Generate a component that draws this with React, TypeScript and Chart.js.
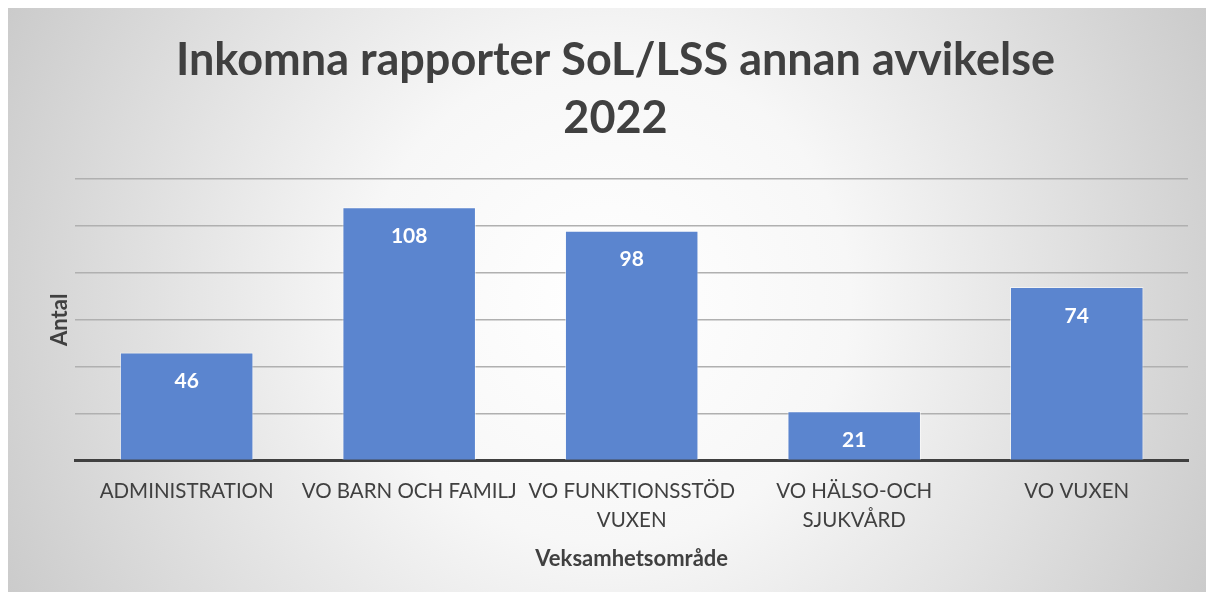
import React, { useEffect, useRef } from "react";
import { Chart, registerables } from "chart.js";

Chart.register(...registerables);

const categories: (string | string[])[] = [
  "ADMINISTRATION",
  "VO BARN OCH FAMILJ",
  ["VO FUNKTIONSSTÖD", "VUXEN"],
  ["VO HÄLSO-OCH", "SJUKVÅRD"],
  "VO VUXEN",
];
const values: number[] = [46, 108, 98, 21, 74];
const titleLines: string[] = ["Inkomna rapporter SoL/LSS annan avvikelse", "2022"];
const yTitle = "Antal";
const xTitle = "Veksamhetsområde";

const TEXT = "#404040";
const FONT = "Lato, 'Open Sans', sans-serif";

const bgPlugin = {
  id: "bgGrad",
  beforeDraw(chart: any) {
    const { ctx, width, height } = chart;
    ctx.save();
    const g = ctx.createRadialGradient(width / 2, height / 2, 0, width / 2, height / 2, width * 0.58);
    g.addColorStop(0, "#ffffff");
    g.addColorStop(0.35, "#f7f7f7");
    g.addColorStop(1, "#c8c8c8");
    ctx.fillStyle = g;
    ctx.fillRect(0, 0, width, height);
    ctx.restore();
  },
};

const labelPlugin = {
  id: "barLabels",
  afterDatasetsDraw(chart: any) {
    const { ctx } = chart;
    const meta = chart.getDatasetMeta(0);
    ctx.save();
    ctx.fillStyle = "#ffffff";
    ctx.font = `bold 21px ${FONT}`;
    ctx.textAlign = "center";
    ctx.textBaseline = "middle";
    meta.data.forEach((bar: any, i: number) => {
      ctx.fillText(String(values[i]), bar.x, bar.y + 29);
    });
    ctx.restore();
  },
};

export default function App() {
  const ref = useRef<HTMLCanvasElement>(null);
  useEffect(() => {
    if (!ref.current) return;
    const chart = new Chart(ref.current, {
      type: "bar",
      data: {
        labels: categories,
        datasets: [
          {
            data: values,
            backgroundColor: "#5b85cf",
            borderColor: "rgba(255,255,255,0.55)",
            borderWidth: 1,
            categoryPercentage: 1,
            barPercentage: 0.6,
          },
        ],
      },
      options: {
        animation: false,
        responsive: false,
        layout: { padding: { left: 35, right: 18, top: 23, bottom: 20 } },
        plugins: {
          legend: { display: false },
          tooltip: { enabled: false },
          title: {
            display: true,
            text: titleLines,
            color: TEXT,
            font: { family: FONT, size: 45, weight: "bold", lineHeight: 1.29 },
            padding: { top: 0, bottom: 32 },
          },
        },
        scales: {
          x: {
            grid: { display: false, drawTicks: false },
            border: { display: true, color: "#404040", width: 3 },
            ticks: {
              color: TEXT,
              font: { family: FONT, size: 20.5, lineHeight: 1.42 },
              padding: 16,
              maxRotation: 0,
              autoSkip: false,
            },
            title: {
              display: true,
              text: xTitle,
              color: TEXT,
              font: { family: FONT, size: 22, weight: "bold" },
              padding: { top: -5, bottom: 0 },
            },
          },
          y: {
            min: 0,
            max: 120,
            ticks: { display: false, stepSize: 20 },
            grid: { color: "#b0b0b0", lineWidth: 1.5, drawTicks: false },
            border: { display: false },
            title: {
              display: true,
              text: yTitle,
              color: TEXT,
              font: { family: FONT, size: 22, weight: "bold" },
              padding: { top: 4, bottom: 2 },
            },
          },
        },
      },
      plugins: [bgPlugin, labelPlugin],
    });
    return () => chart.destroy();
  }, []);
  return <canvas ref={ref} width={1198} height={584} style={{ display: "block" }} />;
}
